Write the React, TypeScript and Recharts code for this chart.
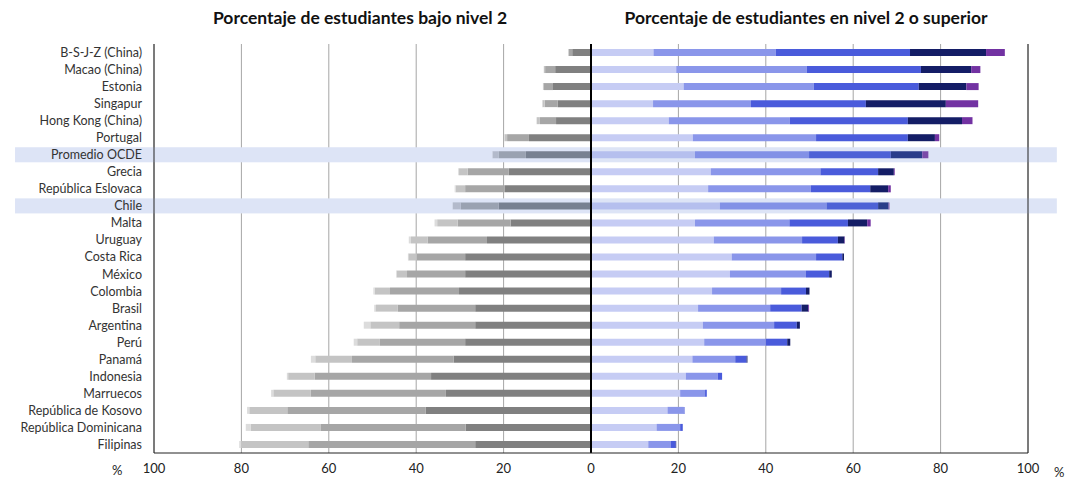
import React from 'react';
import { BarChart, Bar, XAxis, YAxis, CartesianGrid, ReferenceLine, ReferenceArea, Cell } from 'recharts';

const paises = [
  'B-S-J-Z (China)', 'Macao (China)', 'Estonia', 'Singapur', 'Hong Kong (China)', 'Portugal',
  'Promedio OCDE', 'Grecia', 'República Eslovaca', 'Chile', 'Malta', 'Uruguay', 'Costa Rica',
  'México', 'Colombia', 'Brasil', 'Argentina', 'Perú', 'Panamá', 'Indonesia', 'Marruecos',
  'República de Kosovo', 'República Dominicana', 'Filipinas',
];

// bajo nivel 2 (se dibujan hacia la izquierda)
const nivel1a = [4.3, 8.2, 8.7, 7.6, 8.0, 14.2, 14.9, 18.8, 19.7, 21.1, 18.4, 23.8, 28.8, 28.8, 30.2, 26.5, 26.5, 28.8, 31.4, 36.6, 33.2, 37.8, 28.7, 26.5];
const nivel1b = [0.8, 2.3, 2.1, 3.0, 3.7, 5.0, 6.2, 9.4, 9.1, 8.7, 12.1, 13.6, 11.1, 13.3, 15.8, 17.7, 17.4, 19.5, 23.3, 26.6, 30.9, 31.7, 33.1, 38.2];
const nivel1c = [0.1, 0.3, 0.2, 0.5, 0.7, 0.6, 1.4, 2.0, 2.2, 1.8, 4.7, 3.8, 1.9, 2.4, 3.5, 5.0, 6.6, 5.2, 8.4, 6.1, 8.6, 8.7, 16.1, 15.4];
const bajo1c = [0, 0, 0, 0.1, 0.1, 0, 0.1, 0.2, 0.2, 0.1, 0.6, 0.5, 0.1, 0.1, 0.3, 0.4, 1.5, 0.8, 1.0, 0.3, 0.5, 0.5, 1.1, 0.4];

// nivel 2 o superior
const nivel2 = [14.3, 19.5, 21.2, 14.2, 17.8, 23.3, 23.8, 27.4, 26.8, 29.5, 23.8, 28.1, 32.2, 31.8, 27.7, 24.5, 25.6, 25.9, 23.2, 21.7, 20.4, 17.5, 15.0, 13.1];
const nivel3 = [28.0, 29.9, 29.8, 22.4, 27.7, 28.2, 26.1, 25.1, 23.5, 24.4, 21.6, 20.2, 19.3, 17.4, 15.8, 16.5, 16.3, 14.1, 9.8, 7.3, 5.7, 3.7, 5.4, 5.1];
const nivel4 = [30.7, 26.1, 24.0, 26.3, 27.0, 21.0, 18.7, 13.2, 13.6, 11.8, 13.4, 8.2, 6.0, 5.3, 5.7, 7.2, 5.2, 4.9, 2.6, 1.0, 0.4, 0.2, 0.6, 1.2];
const nivel5 = [17.4, 11.5, 10.9, 18.3, 12.4, 6.2, 7.2, 3.6, 4.1, 2.4, 4.4, 1.5, 0.4, 0.6, 0.8, 1.5, 0.7, 0.7, 0.2, 0, 0, 0, 0, 0.1];
const nivel6 = [4.3, 2.1, 2.8, 7.4, 2.4, 1.0, 1.4, 0.2, 0.6, 0.2, 0.8, 0.1, 0, 0, 0, 0.2, 0, 0, 0, 0, 0, 0, 0, 0];

const xTicks = [-100, -80, -60, -40, -20, 0, 20, 40, 60, 80, 100];
const destacados = ['Promedio OCDE', 'Chile'];

const data = paises.map((pais, i) => ({
  pais,
  n1a: -nivel1a[i],
  n1b: -nivel1b[i],
  n1c: -nivel1c[i],
  b1c: -bajo1c[i],
  n2: nivel2[i],
  n3: nivel3[i],
  n4: nivel4[i],
  n5: nivel5[i],
  n6: nivel6[i],
}));

// color normal, color en filas destacadas
const series = [
  { key: 'n1a', color: '#808080', hl: '#788191' },
  { key: 'n1b', color: '#a6a6a6', hl: '#9aa2b1' },
  { key: 'n1c', color: '#c4c4c4', hl: '#b3bacb' },
  { key: 'b1c', color: '#dcdcdc', hl: '#c9d0de' },
  { key: 'n2', color: '#c6ccf4', hl: '#b5bfee' },
  { key: 'n3', color: '#8a96ea', hl: '#8291e6' },
  { key: 'n4', color: '#4a5bdb', hl: '#4d62d6' },
  { key: 'n5', color: '#141d66', hl: '#2a3d8a' },
  { key: 'n6', color: '#7232a2', hl: '#7a4aa8' },
];

const font = 'Lato, "Open Sans", sans-serif';

// banda de resaltado algo más fina que la fila
const Banda = (props: any) => {
  const { x, y, width, height } = props;
  return <rect x={x} y={y + 1} width={width} height={Math.max(height - 2, 0)} fill="#dde4f6" />;
};

const App: React.FC = () => {
  return (
    <div style={{ position: 'absolute', left: 0, top: 0, width: 1081, height: 486, background: '#fff', fontFamily: font }}>
      <div style={{ position: 'absolute', left: 160, width: 400, top: 7, textAlign: 'center', fontWeight: 700, fontSize: 17.5, color: '#111' }}>
        Porcentaje de estudiantes bajo nivel 2
      </div>
      <div style={{ position: 'absolute', left: 580, width: 452, top: 7, textAlign: 'center', fontWeight: 700, fontSize: 17.5, color: '#111' }}>
        Porcentaje de estudiantes en nivel 2 o superior
      </div>
      <BarChart
        width={1081}
        height={486}
        data={data}
        layout="vertical"
        stackOffset="sign"
        barSize={7}
        margin={{ top: 44, right: 53, left: 0, bottom: 3 }}
      >
        {destacados.map(p => (
          <ReferenceArea key={p} y1={p} y2={p} x1={-131.8} x2={106.6} ifOverflow="visible" shape={Banda} />
        ))}
        <CartesianGrid horizontal={false} stroke="#a6a6a6" />
        <XAxis
          type="number"
          domain={[-100, 100]}
          ticks={xTicks}
          height={30}
          tickFormatter={(v: number) => `${Math.abs(v)}`}
          tick={{ fill: '#222', fontSize: 13, fontFamily: font }}
          tickSize={0}
          tickMargin={11}
          axisLine={{ stroke: '#222' }}
        />
        <XAxis xAxisId="top" type="number" orientation="top" domain={[-100, 100]} tick={false} height={0} axisLine={{ stroke: '#888' }} />
        <YAxis
          type="category"
          dataKey="pais"
          width={154}
          tick={{ fill: '#333', fontSize: 12.5, fontFamily: font }}
          tickSize={0}
          tickMargin={12}
          interval={0}
          axisLine={{ stroke: '#222' }}
        />
        {series.map(s => (
          <Bar key={s.key} dataKey={s.key} stackId="a" isAnimationActive={false}>
            {data.map(d => (
              <Cell key={d.pais} fill={destacados.includes(d.pais) ? s.hl : s.color} />
            ))}
          </Bar>
        ))}
        <ReferenceLine x={0} stroke="#000" strokeWidth={2} />
        <ReferenceLine x={100} stroke="#222" />
      </BarChart>
      <div style={{ position: 'absolute', left: 112, top: 462, fontSize: 13, color: '#222' }}>%</div>
      <div style={{ position: 'absolute', left: 1054, top: 464, fontSize: 13, color: '#222' }}>%</div>
    </div>
  );
};

export default App;
